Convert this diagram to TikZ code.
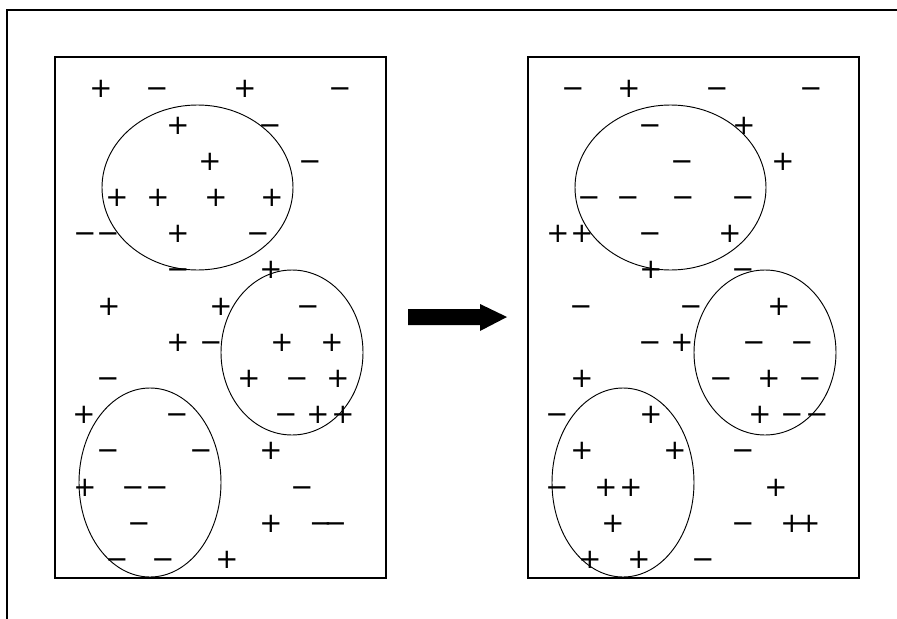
\documentclass[tikz,border=0pt]{standalone}
\usepackage{fontspec}
\usepackage{tikz}
\usetikzlibrary{positioning,calc}
\newfontfamily\chgfont{DejaVu Sans}

\newcommand{\pos}{+}
\newcommand{\negc}{\vphantom{+}−}

\tikzset{
    chg/.style={inner sep=0pt, font=\chgfont\fontsize{23.5}{23.5}\selectfont},
    panel/.style={line width=1.2pt},
    cell/.style={line width=0.8pt}
}

\begin{document}
\begin{tikzpicture}[x=0.03cm, y=-0.03cm]
    \useasboundingbox (0,0) rectangle (897,619);

    % Frame
    \draw [line width=1.1pt] (7,619) -- (7,10) -- (897,10);

    % Panels
    \draw [panel] (55,57) rectangle (386,578);
    \draw [panel] (528,57) rectangle (859,578);

    % Regions (same in both panels)
    \foreach \dx in {0, 473} {
        \draw [cell] (197.5+\dx, 187.5) ellipse [x radius=95.5, y radius=82.5];
        \draw [cell] (292+\dx, 352.5) ellipse [x radius=71, y radius=82.5];
        \draw [cell] (150+\dx, 482.5) ellipse [x radius=71, y radius=94.5];
    }

    % Left panel charges
    \foreach \x/\y [count=\i] in {101/89, 245/89, 178/126, 210/162, 117/198, 158/198,
        216/198, 272/198, 178/234, 271/270, 109/307, 221/307, 178/343, 282/343,
        332/343, 249/379, 338/379, 84/415, 318/415, 343/415, 271/451, 85/488,
        271/524, 227/560} {
        \node [chg] (lplus\i) at (\x,\y) {\pos};
    }
    \foreach \x/\y [count=\i] in {157/89, 340/89, 270/126, 310/162, 85/234, 108/234,
        258/234, 178/270, 308/307, 211/343, 108/379, 297/379, 177/415, 286/415,
        108/451, 201/451, 133/488, 157/488, 302/488, 139/524, 117/560, 163/560} {
        \node [chg] (lminus\i) at (\x,\y) {\negc};
    }
    \node [chg] (lminuslong) at (328,524) {\negc\kern-7pt−};

    % Arrow
    \fill (408,309) -- (480,309) -- (480,304) -- (507,317) -- (480,331)
        -- (480,325) -- (408,325) -- cycle;

    % Right panel charges
    \foreach \x/\y [count=\i] in {629/89, 744/126, 783/162, 558/234, 582/234, 730/234,
        651/270, 779/307, 682/343, 582/379, 769/379, 651/415, 760/415, 582/451,
        675/451, 606/488, 631/488, 776/488, 613/524, 792/524, 809/524, 590/560,
        639/560} {
        \node [chg] (rplus\i) at (\x,\y) {\pos};
    }
    \foreach \x/\y [count=\i] in {573/89, 717/89, 811/89, 650/126, 682/162, 589/198,
        628/198, 683/198, 743/198, 650/234, 743/270, 581/307, 691/307, 650/343,
        754/343, 802/343, 721/379, 810/379, 557/415, 792/415, 817/415, 743/451,
        557/488, 743/524, 703/560} {
        \node [chg] (rminus\i) at (\x,\y) {\negc};
    }
\end{tikzpicture}
\end{document}
